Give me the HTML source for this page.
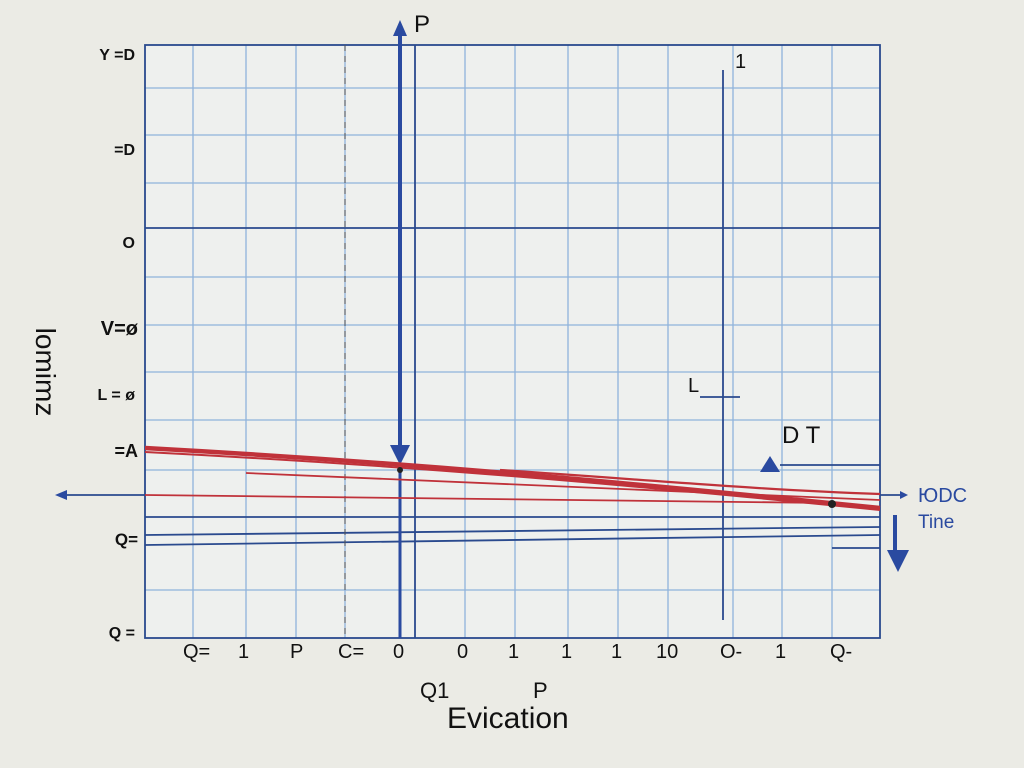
<!DOCTYPE html>
<html><head><meta charset="utf-8"><style>
html,body{margin:0;padding:0;background:#ebebe5;}
svg{display:block;font-family:"Liberation Sans",sans-serif;}
</style></head><body>
<svg width="1024" height="768" viewBox="0 0 1024 768">
<rect width="1024" height="768" fill="#ebebe5"/>
<rect x="145" y="45" width="735" height="593" fill="#eef0ee"/>
<g stroke="#8fb3dc" stroke-width="1.3">
<line x1="193" y1="45" x2="193" y2="638"/><line x1="246" y1="45" x2="246" y2="638"/>
<line x1="296" y1="45" x2="296" y2="638"/><line x1="345" y1="45" x2="345" y2="638"/>
<line x1="465" y1="45" x2="465" y2="638"/><line x1="515" y1="45" x2="515" y2="638"/>
<line x1="568" y1="45" x2="568" y2="638"/><line x1="618" y1="45" x2="618" y2="638"/>
<line x1="668" y1="45" x2="668" y2="638"/><line x1="733" y1="45" x2="733" y2="638"/>
<line x1="782" y1="45" x2="782" y2="638"/><line x1="832" y1="45" x2="832" y2="638"/>
<line x1="145" y1="88" x2="880" y2="88"/><line x1="145" y1="135" x2="880" y2="135"/>
<line x1="145" y1="183" x2="880" y2="183"/><line x1="145" y1="277" x2="880" y2="277"/>
<line x1="145" y1="325" x2="880" y2="325"/><line x1="145" y1="372" x2="880" y2="372"/>
<line x1="145" y1="420" x2="880" y2="420"/><line x1="145" y1="470" x2="880" y2="470"/>
<line x1="145" y1="590" x2="880" y2="590"/>
</g>
<g stroke="#2a4a8e" stroke-width="1.8" fill="none">
<rect x="145" y="45" width="735" height="593"/>
<line x1="145" y1="228" x2="880" y2="228"/>
<line x1="415" y1="45" x2="415" y2="638"/>
<line x1="723" y1="70" x2="723" y2="620"/>
<line x1="145" y1="517" x2="880" y2="517"/>
<line x1="145" y1="535" x2="880" y2="527"/>
<line x1="145" y1="545" x2="880" y2="535"/>
<line x1="60" y1="495" x2="145" y2="495"/>
<line x1="700" y1="397" x2="740" y2="397"/>
<line x1="780" y1="465" x2="880" y2="465"/>
<line x1="832" y1="548" x2="880" y2="548"/>
<line x1="880" y1="495" x2="900" y2="495"/>
</g>
<line x1="345" y1="45" x2="345" y2="638" stroke="#555" stroke-dasharray="6 5" stroke-width="1"/>
<line x1="400" y1="25" x2="400" y2="455" stroke="#2a4aa0" stroke-width="4"/>
<line x1="400" y1="470" x2="400" y2="638" stroke="#2a4aa0" stroke-width="3"/>
<polygon points="393,36 400,20 407,36" fill="#2a4aa0"/>
<polygon points="390,445 400,465 410,445" fill="#2a4aa0"/>
<polygon points="887,550 898,572 909,550" fill="#2a4aa0"/>
<rect x="893" y="515" width="4" height="40" fill="#2a4aa0"/>
<polygon points="760,472 770,456 780,472" fill="#2a4aa0"/>
<polygon points="55,495 67,490 67,500" fill="#2a4aa0"/>
<polygon points="900,491 908,495 900,499" fill="#2a4aa0"/>
<g stroke="#c0323a" fill="none">
<path d="M145,448 C400,462 600,480 880,508" stroke-width="4.5"/>
<path d="M145,452 C400,465 600,482 880,510" stroke-width="2"/>
<line x1="246" y1="473" x2="880" y2="500" stroke-width="1.8"/>
<line x1="145" y1="495" x2="830" y2="503" stroke-width="1.8"/>
<path d="M500,470 C650,480 760,490 880,494" stroke-width="2.2"/>
</g>
<circle cx="832" cy="504" r="4" fill="#222"/>
<circle cx="400" cy="470" r="3" fill="#222"/>
<g fill="#111" font-size="20" font-weight="bold" text-anchor="end">
<text x="135" y="60" font-size="16">Y  =D</text>
<text x="135" y="155" font-size="16">=D</text>
<text x="135" y="248" font-size="16">O</text>
<text x="138" y="335">V=ø</text>
<text x="135" y="400" font-size="16">L  = ø</text>
<text x="138" y="457" font-size="18">=A</text>
<text x="138" y="545" font-size="17">Q=</text>
<text x="135" y="638" font-size="16">Q  =</text>
</g>
<g fill="#111" font-size="20">
<text x="183" y="658">Q=</text><text x="238" y="658">1</text><text x="290" y="658">P</text>
<text x="338" y="658">C=</text><text x="393" y="658">0</text><text x="457" y="658">0</text>
<text x="508" y="658">1</text><text x="561" y="658">1</text><text x="611" y="658">1</text>
<text x="656" y="658">10</text><text x="720" y="658">O-</text><text x="775" y="658">1</text>
<text x="830" y="658">Q-</text>
<text x="414" y="32" font-size="24">P</text>
<text x="735" y="68">1</text>
<text x="688" y="392">L</text>
<text x="782" y="443" font-size="24">D T</text>
<text x="420" y="698" font-size="22">Q1</text>
<text x="533" y="698" font-size="22">P</text>
<text x="447" y="728" font-size="30">Evication</text>
<text x="0" y="0" font-size="28" text-anchor="middle" transform="translate(36,372) rotate(90)">lomimz</text>
</g>
<text x="918" y="502" font-size="20" fill="#2a4aa0">ЮDC</text>
<text x="918" y="528" font-size="19" fill="#2a4aa0">Tine</text>
</svg>
</body></html>
